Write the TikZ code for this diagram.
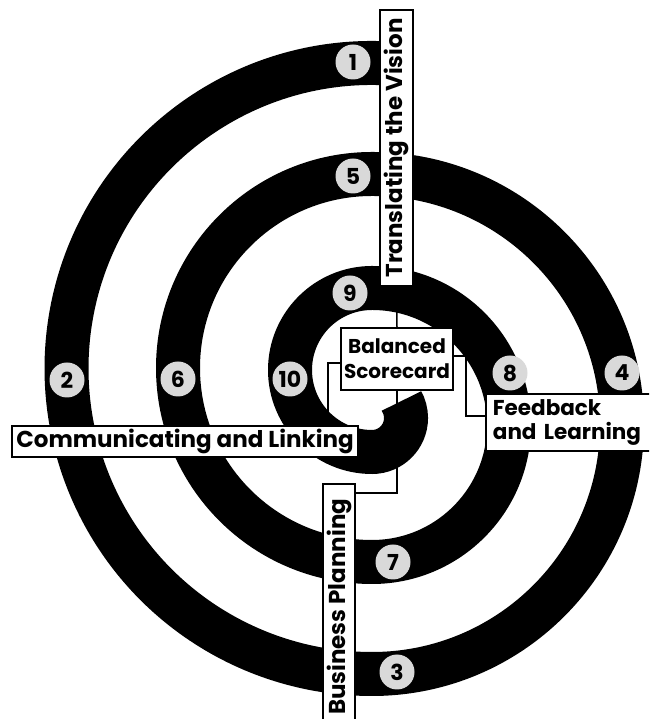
\documentclass[tikz,border=0pt]{standalone}
\usepackage{fontspec}
\setmainfont{Poppins}
\usetikzlibrary{positioning}

\begin{document}
\begin{tikzpicture}[x=1pt,y=1pt,
band/.style={line width=44pt},
num/.style={circle,fill=black!15,minimum size=35pt,inner sep=0pt,font=\fontsize{22}{22}\selectfont\bfseries},
lab/.style={rectangle,draw=black,line width=1.8pt,fill=white,inner sep=0pt,font=\fontsize{23}{25}\selectfont\bfseries,align=center},
wire/.style={draw=black,line width=1.5pt}]
\useasboundingbox (0,0) rectangle (649,719);
\clip (0,0) rectangle (649,719);
\draw[band] (398.63,654.84) arc[start angle=85,end angle=270,radius=305.5] arc[start angle=270,end angle=450,radius=250] arc[start angle=90,end angle=270,radius=194] arc[start angle=270,end angle=450,radius=137] arc[start angle=90,end angle=270,radius=82] arc[start angle=270,end angle=390,radius=34];
\node at (353,657)[num](n1){1};
\node at (67,339)[num](n2){2};
\node at (397,47)[num](n3){3};
\node at (622,346)[num](n4){4};
\node at (353,543)[num](n5){5};
\node at (178,340)[num](n6){6};
\node at (393,157)[num](n7){7};
\node at (510,346)[num](n8){8};
\node at (350,426)[num](n9){9};
\node at (290,340)[num](n10){10};
\node at (396.5,571)[lab,rotate=90,minimum width=276pt,minimum height=33pt](vision){Translating the Vision};
\node at (397,360)[lab,minimum width=112pt,minimum height=62pt,font=\fontsize{20}{25}\selectfont\bfseries](bsc){Balanced\\Scorecard};
\node at (185,277.5)[lab,minimum width=346pt,minimum height=31pt](link){Communicating and Linking};
\node at (485,326)[lab,anchor=north west,align=left,text width=190pt,inner xsep=7pt,minimum height=57pt,font=\fontsize{21.5}{24}\selectfont\bfseries](fb){Feedback\\and Learning};
\node at (339,236)[lab,rotate=90,anchor=east,minimum width=246pt,minimum height=32pt](plan){Business Planning};
\draw[wire] (vision.west) -- (bsc.north);
\draw[wire] ([yshift=-4pt]bsc.west) -| ([xshift=-31pt]link.north east);
\draw[wire] ([yshift=3pt]bsc.east) -- ++(12,0) |- ([yshift=6.5pt]fb.west);
\draw[wire] (bsc.south) |- ([yshift=-10pt]plan.south east);
\end{tikzpicture}
\end{document}
